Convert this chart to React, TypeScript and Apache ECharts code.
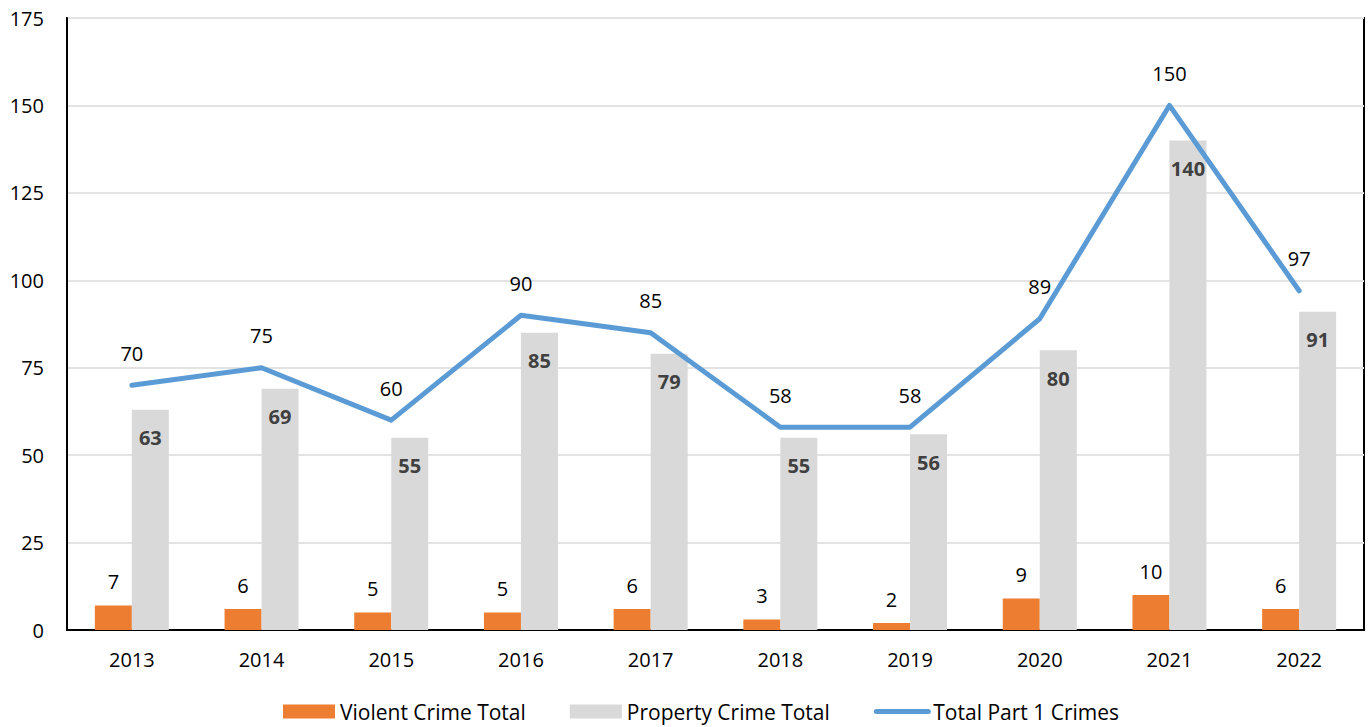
import React, { useEffect, useRef } from "react";
import * as echarts from "echarts";

const years = ["2013", "2014", "2015", "2016", "2017", "2018", "2019", "2020", "2021", "2022"];
const violent = [7, 6, 5, 5, 6, 3, 2, 9, 10, 6];
const property = [63, 69, 55, 85, 79, 55, 56, 80, 140, 91];
const totalPart1 = [70, 75, 60, 90, 85, 58, 58, 89, 150, 97];

const FONT = "'Open Sans', 'Noto Sans', sans-serif";

export default function App() {
  const ref = useRef<HTMLDivElement>(null);
  useEffect(() => {
    if (!ref.current) return;
    const chart = echarts.init(ref.current, undefined, { renderer: "svg" });
    chart.setOption({
      animation: false,
      textStyle: { fontFamily: FONT },
      grid: {
        left: 67,
        right: 4,
        top: 18,
        bottom: 97,
        show: true,
        borderColor: "#000",
        borderWidth: 2,
        backgroundColor: "transparent",
      },
      legend: {
        bottom: 0,
        left: 278,
        itemWidth: 52,
        itemHeight: 14,
        itemGap: 44,
        textStyle: { fontFamily: FONT, fontSize: 21, color: "#000" },
        data: [
          { name: "Violent Crime Total", icon: "rect" },
          { name: "Property Crime Total", icon: "rect" },
          {
            name: "Total Part 1 Crimes",
            itemStyle: { opacity: 0 },
            lineStyle: { width: 5, color: "#5B9BD5", cap: "round" },
          },
        ],
      },
      xAxis: {
        type: "category",
        data: years,
        axisLine: { show: true, lineStyle: { color: "#000", width: 2 } },
        axisTick: { show: false },
        axisLabel: { color: "#000", fontSize: 20, fontFamily: FONT, margin: 19 },
      },
      yAxis: {
        type: "value",
        min: 0,
        max: 175,
        interval: 25,
        axisLine: { show: true, lineStyle: { color: "#000", width: 2 } },
        axisTick: { show: false },
        axisLabel: { color: "#000", fontSize: 20, fontFamily: FONT, margin: 23 },
        splitLine: { lineStyle: { color: "#E3E3E3", width: 2 } },
      },
      series: [
        {
          name: "Violent Crime Total",
          type: "bar",
          data: violent,
          barWidth: 37,
          barGap: "0%",
          itemStyle: { color: "#ED7D31" },
          label: {
            show: true,
            position: "top",
            distance: 14,
            color: "#000",
            fontSize: 20,
            fontFamily: FONT,
          },
        },
        {
          name: "Property Crime Total",
          type: "bar",
          data: property,
          barWidth: 37,
          barGap: "0%",
          itemStyle: { color: "#D9D9D9" },
          label: {
            show: true,
            position: "insideTop",
            distance: 18,
            color: "#404040",
            fontWeight: "bold",
            fontSize: 20,
            fontFamily: FONT,
          },
        },
        {
          name: "Total Part 1 Crimes",
          type: "line",
          data: totalPart1,
          symbol: "circle",
          symbolSize: 2,
          showSymbol: true,
          z: 3,
          lineStyle: { color: "#5B9BD5", width: 5, cap: "round", join: "round" },
          itemStyle: { color: "#5B9BD5" },
          label: {
            show: true,
            position: "top",
            distance: 21,
            color: "#000",
            fontSize: 20,
            fontFamily: FONT,
          },
        },
      ],
    });
    return () => chart.dispose();
  }, []);
  return <div ref={ref} style={{ width: 1368, height: 727, position: "absolute", left: 0, top: 0 }} />;
}
